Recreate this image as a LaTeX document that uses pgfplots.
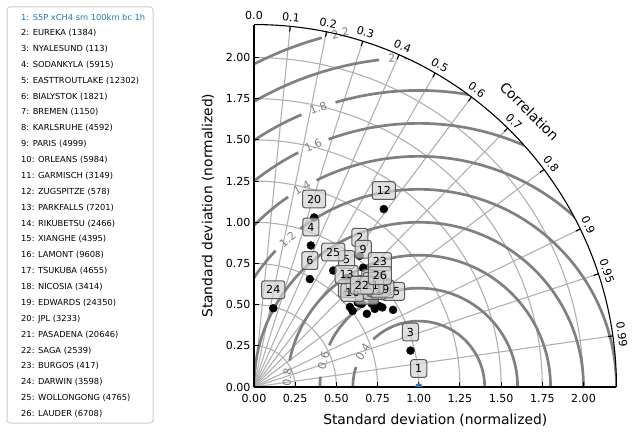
\documentclass[border=0pt]{standalone}
\usepackage{fontspec}
\setmainfont{DejaVu Sans}
\usepackage{pgfplots}
\pgfplotsset{compat=1.18}

\definecolor{gridgray}{HTML}{B0B0B0}
\definecolor{contgray}{HTML}{808080}
\definecolor{refblue}{HTML}{1F77B4}
\definecolor{boxfill}{HTML}{D3D3D3}
\definecolor{legedge}{HTML}{CCCCCC}
\newcommand\ticksize{\fontsize{11.1}{13.3}\selectfont}
\newcommand\labelsize{\fontsize{13.9}{16.7}\selectfont}
\newcommand\legsize{\fontsize{8.33}{10}\selectfont}

\begin{document}
\begin{tikzpicture}
\useasboundingbox (0,0) rectangle (637bp,433bp);

% grid and RMS contours, drawn under the axis
\begin{scope}[shift={(254bp,46bp)}, x=164.75bp, y=164.75bp]
  \foreach \r in {0.25,0.5,0.75,1.0,1.25,1.5,1.75,2.0}
    \draw[gridgray, line width=1.1bp] (\r,0) arc[start angle=0, end angle=90, radius=\r];
  \foreach \cc in {0.1,0.2,0.3,0.4,0.5,0.6,0.7,0.8,0.9,0.95,0.99}
    \draw[gridgray, line width=1.1bp] (0,0) -- ({acos(\cc)}:2.2);
  \begin{scope}
    \clip (0,0) -- (2.2,0) arc[start angle=0, end angle=90, radius=2.2] -- cycle;
    \foreach \R/\t/\g in {0.4/148/14.3, 0.6/164.5/9.5, 0.8/175.7/7.2, 1.2/131.6/4.8,
                          1.4/120.4/4.1, 1.6/113.6/3.6, 1.8/109.8/3.5, 2.0/94.7/2.2, 2.2/102.5/3.0}
      \draw[contgray, line width=2.7bp] ([shift={(\t+\g:\R)}]1,0)
        arc[start angle=\t+\g, end angle=\t-\g+360, radius=\R];
    \draw[contgray, line width=2.7bp] (1,0) circle[radius=1];
  \end{scope}
  \foreach \R/\t/\lab in {0.4/148/0.4, 0.6/164.5/0.6, 0.8/175.7/0.8, 1.2/131.6/1.2,
                          1.4/120.4/1.4, 1.6/113.6/1.6, 1.8/109.8/1.8, 2.0/94.7/2, 2.2/102.5/2.2}
    \node[contgray, font=\ticksize, inner sep=0, rotate=\t-90] at ([shift={(\t:\R)}]1,0) {\lab};
\end{scope}

\begin{axis}[
  at={(254bp,46bp)}, anchor=south west,
  x=164.75bp, y=164.75bp,
  xmin=0, xmax=2.2, ymin=0, ymax=2.2,
  disabledatascaling,
  axis x line=bottom, axis y line=left,
  axis line style={-, line width=1.1bp},
  xtick={0,0.25,0.5,0.75,1,1.25,1.5,1.75,2},
  ytick={0,0.25,0.5,0.75,1,1.25,1.5,1.75,2},
  xticklabels={0.00,0.25,0.50,0.75,1.00,1.25,1.50,1.75,2.00},
  yticklabels={0.00,0.25,0.50,0.75,1.00,1.25,1.50,1.75,2.00},
  tick align=inside, major tick length=4.9bp,
  tick style={black, line width=1.1bp},
  every tick label/.append style={font=\ticksize},
  xticklabel style={yshift=-4bp},
  xlabel={Standard deviation (normalized)},
  ylabel={Standard deviation (normalized)},
  xlabel style={font=\labelsize, at={([yshift=-33bp]axis description cs:0.5,0)}, anchor=center},
  ylabel style={font=\labelsize, at={([xshift=-46bp]axis description cs:0,0.5)}, anchor=center, rotate=0},
  clip marker paths=true,
]
% reference
\addplot[only marks, mark=*, mark size=3.5bp, refblue] coordinates {(1.0,0.0)};
% stations
\addplot[only marks, mark=*, mark size=4bp, black] coordinates {
  (0.642,0.796) (0.950,0.221) (0.345,0.859) (0.562,0.661) (0.339,0.655)
  (0.630,0.511) (0.703,0.547) (0.663,0.724) (0.582,0.486) (0.733,0.529)
  (0.788,1.080) (0.562,0.571) (0.685,0.444) (0.844,0.468) (0.598,0.462)
  (0.733,0.474) (0.758,0.492) (0.779,0.483) (0.365,1.029) (0.715,0.505)
  (0.655,0.505) (0.764,0.650) (0.117,0.478) (0.481,0.707) (0.764,0.565)
};
% numbered boxes
\addplot[only marks, mark=none, point meta=explicit symbolic,
  nodes near coords,
  every node near coord/.style={anchor=center, yshift=18.5bp, font=\ticksize,
    fill=boxfill, fill opacity=0.7, text opacity=1, draw=black!65, draw opacity=1,
    line width=1bp, rounded corners=2.5bp, inner xsep=4.5bp, inner ysep=4.8bp,
    text height=8.2bp, text depth=0bp}]
coordinates {
  (1.000,0.000) [1]
  (0.642,0.796) [2] (0.950,0.221) [3] (0.345,0.859) [4] (0.562,0.661) [5] (0.339,0.655) [6]
  (0.630,0.511) [7] (0.703,0.547) [8] (0.663,0.724) [9] (0.582,0.486) [10] (0.733,0.529) [11]
  (0.788,1.080) [12] (0.562,0.571) [13] (0.685,0.444) [14] (0.844,0.468) [15] (0.598,0.462) [16]
  (0.733,0.474) [17] (0.758,0.492) [18] (0.779,0.483) [19] (0.365,1.029) [20] (0.715,0.505) [21]
  (0.655,0.505) [22] (0.764,0.650) [23] (0.117,0.478) [24] (0.481,0.707) [25] (0.764,0.565) [26]
};
\end{axis}

% correlation arc, ticks and labels
\begin{scope}[shift={(254bp,46bp)}, x=164.75bp, y=164.75bp]
  \draw[line width=1.1bp] (2.2,0) arc[start angle=0, end angle=90, radius=2.2];
  \foreach \cc in {0.0,0.1,0.2,0.3,0.4,0.5,0.6,0.7,0.8,0.9,0.95,0.99} {
    \draw[line width=1.1bp] ({acos(\cc)}:2.2) -- ({acos(\cc)}:2.17);
    \node[font=\ticksize, inner sep=0, rotate={acos(\cc)-90}] at ({acos(\cc)}:2.255) {\cc};
  }
  \node[font=\labelsize, inner sep=0, rotate=-45] at (45:2.365) {Correlation};
\end{scope}

% legend
\begin{scope}[x=1bp, y=1bp]
  \draw[legedge, line width=1bp, rounded corners=3bp, fill=white] (7,10) rectangle (153,426);
  \node[anchor=west, font=\legsize, inner sep=0, refblue] at (21,416) {1: S5P xCH4 sm 100km bc 1h};
  \foreach \t [count=\i] in {2: EUREKA (1384), 3: NYALESUND (113), 4: SODANKYLA (5915),
    5: EASTTROUTLAKE (12302), 6: BIALYSTOK (1821), 7: BREMEN (1150), 8: KARLSRUHE (4592),
    9: PARIS (4999), 10: ORLEANS (5984), 11: GARMISCH (3149), 12: ZUGSPITZE (578),
    13: PARKFALLS (7201), 14: RIKUBETSU (2466), 15: XIANGHE (4395), 16: LAMONT (9608),
    17: TSUKUBA (4655), 18: NICOSIA (3414), 19: EDWARDS (24350), 20: JPL (3233),
    21: PASADENA (20646), 22: SAGA (2539), 23: BURGOS (417), 24: DARWIN (3598),
    25: WOLLONGONG (4765), 26: LAUDER (6708)}
    \node[anchor=west, font=\legsize, inner sep=0] at (21,{416-15.88*\i}) {\t};
\end{scope}
\end{tikzpicture}
\end{document}
